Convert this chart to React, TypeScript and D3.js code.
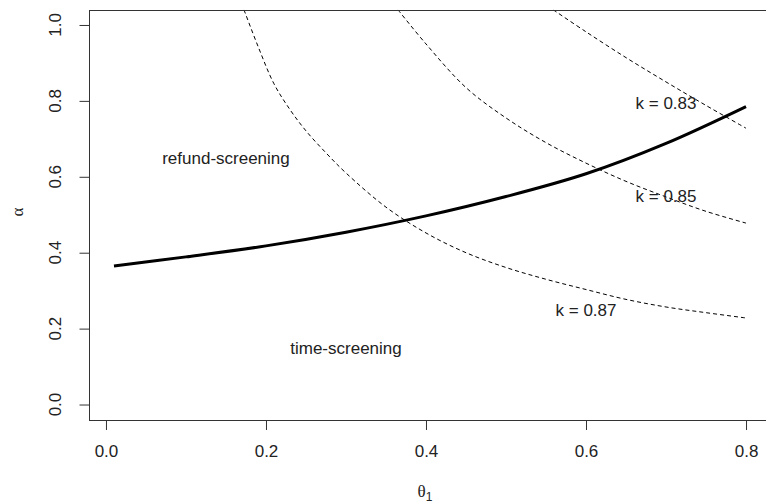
import React, { useEffect, useRef } from 'react';
import * as d3 from 'd3';

// boundary between refund-screening and time-screening
const boundaryTheta = [0.01, 0.1, 0.2, 0.3, 0.4, 0.5, 0.6, 0.7, 0.8];
const boundaryAlpha = [0.365, 0.389, 0.418, 0.454, 0.497, 0.548, 0.608, 0.688, 0.785];

// iso-k contours (dashed)
const k87Theta = [0.1725, 0.19, 0.21, 0.23, 0.25, 0.275, 0.3, 0.35, 0.4, 0.45, 0.5, 0.55, 0.6, 0.65, 0.7, 0.75, 0.8];
const k87Alpha = [1.04, 0.944, 0.845, 0.777, 0.721, 0.663, 0.61, 0.52, 0.452, 0.4, 0.361, 0.33, 0.303, 0.277, 0.257, 0.242, 0.228];

const k85Theta = [0.365, 0.4, 0.45, 0.5, 0.55, 0.6, 0.65, 0.7, 0.75, 0.8];
const k85Alpha = [1.04, 0.95, 0.835, 0.755, 0.69, 0.636, 0.588, 0.547, 0.509, 0.478];

const k83Theta = [0.559, 0.6, 0.65, 0.7, 0.75, 0.8];
const k83Alpha = [1.04, 0.982, 0.914, 0.85, 0.788, 0.728];

const xTicks = [0.0, 0.2, 0.4, 0.6, 0.8];
const yTicks = [0.0, 0.2, 0.4, 0.6, 0.8, 1.0];

const labelText = ['refund-screening', 'time-screening', 'k = 0.83', 'k = 0.85', 'k = 0.87'];
const labelTheta = [0.15, 0.3, 0.7, 0.7, 0.6];
const labelAlpha = [0.65, 0.15, 0.795, 0.548, 0.25];

const W = 766;
const H = 504;
const FONT = '"Liberation Sans", Arial, sans-serif';
const GREEK = '"Liberation Serif", "DejaVu Serif", serif';

export default function App() {
  const svgRef = useRef<SVGSVGElement>(null);

  useEffect(() => {
    if (!svgRef.current) return;
    const svg = d3.select(svgRef.current);
    svg.selectAll('*').remove();

    const left = 88.7, right = 771.3, top = 9.8, bottom = 419.7;

    const x = d3.scaleLinear().domain([-0.0216, 0.8316]).range([left, right]);
    const y = d3.scaleLinear().domain([-0.04, 1.04]).range([bottom, top]);

    svg.append('defs')
      .append('clipPath')
      .attr('id', 'plotclip')
      .append('rect')
      .attr('x', left)
      .attr('y', top)
      .attr('width', right - left)
      .attr('height', bottom - top);

    const line = d3.line<[number, number]>()
      .x(d => x(d[0]))
      .y(d => y(d[1]))
      .curve(d3.curveCatmullRom.alpha(0.5));

    const zip = (a: number[], b: number[]) => a.map((v, i) => [v, b[i]] as [number, number]);

    const g = svg.append('g').attr('clip-path', 'url(#plotclip)');

    // dashed contours
    [zip(k87Theta, k87Alpha), zip(k85Theta, k85Alpha), zip(k83Theta, k83Alpha)].forEach(pts => {
      g.append('path')
        .attr('d', line(pts))
        .attr('fill', 'none')
        .attr('stroke', '#000')
        .attr('stroke-width', 1)
        .attr('stroke-dasharray', '4,3');
    });

    // thick boundary
    g.append('path')
      .attr('d', line(zip(boundaryTheta, boundaryAlpha)))
      .attr('fill', 'none')
      .attr('stroke', '#000')
      .attr('stroke-width', 3);

    // box
    svg.append('rect')
      .attr('x', Math.round(left) + 0.5)
      .attr('y', Math.round(top) + 0.5)
      .attr('width', Math.round(right - left))
      .attr('height', Math.round(bottom - top))
      .attr('fill', 'none')
      .attr('stroke', '#333')
      .attr('stroke-width', 1);

    // X axis
    const xAxis = svg.append('g')
      .attr('transform', `translate(0,${Math.round(bottom) + 0.5})`)
      .call(d3.axisBottom(x).tickValues(xTicks).tickSize(9.5).tickPadding(15).tickFormat(d3.format('.1f')));
    xAxis.select('.domain').remove();
    xAxis.selectAll('line').attr('stroke', '#333');
    xAxis.selectAll('text')
      .attr('font-family', FONT)
      .attr('font-size', 17)
      .attr('fill', '#222');

    // Y axis
    const yAxis = svg.append('g')
      .attr('transform', `translate(${Math.round(left) + 0.5},0)`)
      .call(d3.axisLeft(y).tickValues(yTicks).tickSize(10).tickFormat(d3.format('.1f')));
    yAxis.select('.domain').remove();
    yAxis.selectAll('line').attr('stroke', '#333');
    yAxis.selectAll('text').remove();
    yTicks.forEach(t => {
      svg.append('text')
        .attr('transform', `translate(55.5,${y(t)}) rotate(-90)`)
        .attr('text-anchor', 'middle')
        .attr('dy', '0.35em')
        .attr('font-family', FONT)
        .attr('font-size', 17)
        .attr('fill', '#222')
        .text(d3.format('.1f')(t));
    });

    // axis titles
    const xt = svg.append('text')
      .attr('x', 425)
      .attr('y', 497)
      .attr('text-anchor', 'middle')
      .attr('font-family', GREEK)
      .attr('font-size', 17)
      .attr('fill', '#222');
    xt.append('tspan').text('θ');
    xt.append('tspan').attr('font-size', 12).attr('dy', 4).attr('font-family', FONT).text('1');

    svg.append('text')
      .attr('transform', 'translate(17,212) rotate(-90)')
      .attr('text-anchor', 'middle')
      .attr('dy', '0.35em')
      .attr('font-family', GREEK)
      .attr('font-size', 17)
      .attr('fill', '#222')
      .text('α');

    // annotations
    labelText.forEach((t, i) => {
      svg.append('text')
        .attr('x', x(labelTheta[i]))
        .attr('y', y(labelAlpha[i]))
        .attr('dy', '0.35em')
        .attr('text-anchor', 'middle')
        .attr('font-family', FONT)
        .attr('font-size', 17)
        .attr('fill', '#222')
        .text(t);
    });
  }, []);

  return (
    <svg
      ref={svgRef}
      width={W}
      height={H}
      style={{ position: 'absolute', left: 0, top: 0, background: '#fff' }}
    />
  );
}
